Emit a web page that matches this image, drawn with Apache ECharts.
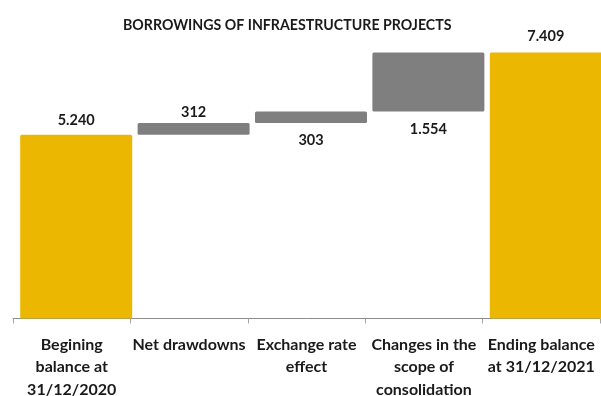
<!DOCTYPE html>
<html>
<head>
<meta charset="utf-8">
<script src="https://cdn.jsdelivr.net/npm/echarts@6/dist/echarts.min.js"></script>
<style>
html,body{margin:0;padding:0;background:#fff;}
#c{width:601px;height:396px;}
</style>
</head>
<body>
<div id="c"></div>
<script>
const categories = [
  "Begining\nbalance at\n31/12/2020",
  "Net drawdowns",
  "Exchange rate\neffect",
  "Changes in the\nscope of\nconsolidation",
  "Ending balance\nat 31/12/2021"
];
const values = [5240, 312, 303, 1554, 7409];
const isTotal = [true, false, false, false, true];
const valueLabels = ["5.240", "312", "303", "1.554", "7.409"];
const labelPos = ["top", "top", "bottom", "bottom", "top"];
const labelDist = [7, 3, 10, 10, 9];

// invisible base of each floating bar = running total before it
const base = [];
let run = 0;
values.forEach((v, i) => {
  if (isTotal[i]) { base.push(0); run = v; }
  else { base.push(run); run += v; }
});

const GOLD = '#EBB700';
const GREY = '#7F7F7F';
const FONT = 'Lato';

const chart = echarts.init(document.getElementById('c'));
chart.setOption({
  animation: false,
  backgroundColor: '#fff',
  title: {
    text: 'BORROWINGS OF INFRAESTRUCTURE PROJECTS',
    left: 118, top: 13,
    textStyle: { fontFamily: FONT, fontSize: 14.2, fontWeight: 'bold', color: '#1a1a1a' }
  },
  grid: [
    { left: 13, right: 1, top: 30, bottom: 77.5, containLabel: false, outerBoundsMode: 'none' },
    { left: 17.5, right: -3.5, top: 30, bottom: 77.5, containLabel: false, outerBoundsMode: 'none' }
  ],
  xAxis: [
    {
      type: 'category', gridIndex: 0, data: categories,
      axisLine: { show: true, lineStyle: { color: '#8c8c8c', width: 1 } },
      axisTick: { show: true, length: 5, lineStyle: { color: '#a6a6a6' } },
      axisLabel: {
        interval: 0, margin: 15,
        fontFamily: FONT, fontSize: 16, fontWeight: 'bold', color: '#1a1a1a',
        lineHeight: 22.5
      }
    },
    {
      type: 'category', gridIndex: 1, data: categories,
      show: false
    }
  ],
  yAxis: [
    { type: 'value', gridIndex: 0, min: 0, max: 1, show: false },
    { type: 'value', gridIndex: 1, min: 400, max: 8000, show: false }
  ],
  series: [
    {
      type: 'bar', xAxisIndex: 1, yAxisIndex: 1, stack: 'w',
      data: base, barWidth: 112, clip: true, silent: true,
      itemStyle: { color: 'rgba(0,0,0,0)' }
    },
    {
      type: 'bar', xAxisIndex: 1, yAxisIndex: 1, stack: 'w',
      barWidth: 112, clip: true,
      data: values.map((v, i) => ({
        value: v,
        itemStyle: { color: isTotal[i] ? GOLD : GREY, borderRadius: 1.5 },
        label: {
          show: true,
          position: labelPos[i],
          distance: labelDist[i],
          formatter: valueLabels[i],
          fontFamily: FONT, fontSize: 14.5, fontWeight: 'bold', color: '#1a1a1a'
        }
      }))
    }
  ]
});
</script>
</body>
</html>
